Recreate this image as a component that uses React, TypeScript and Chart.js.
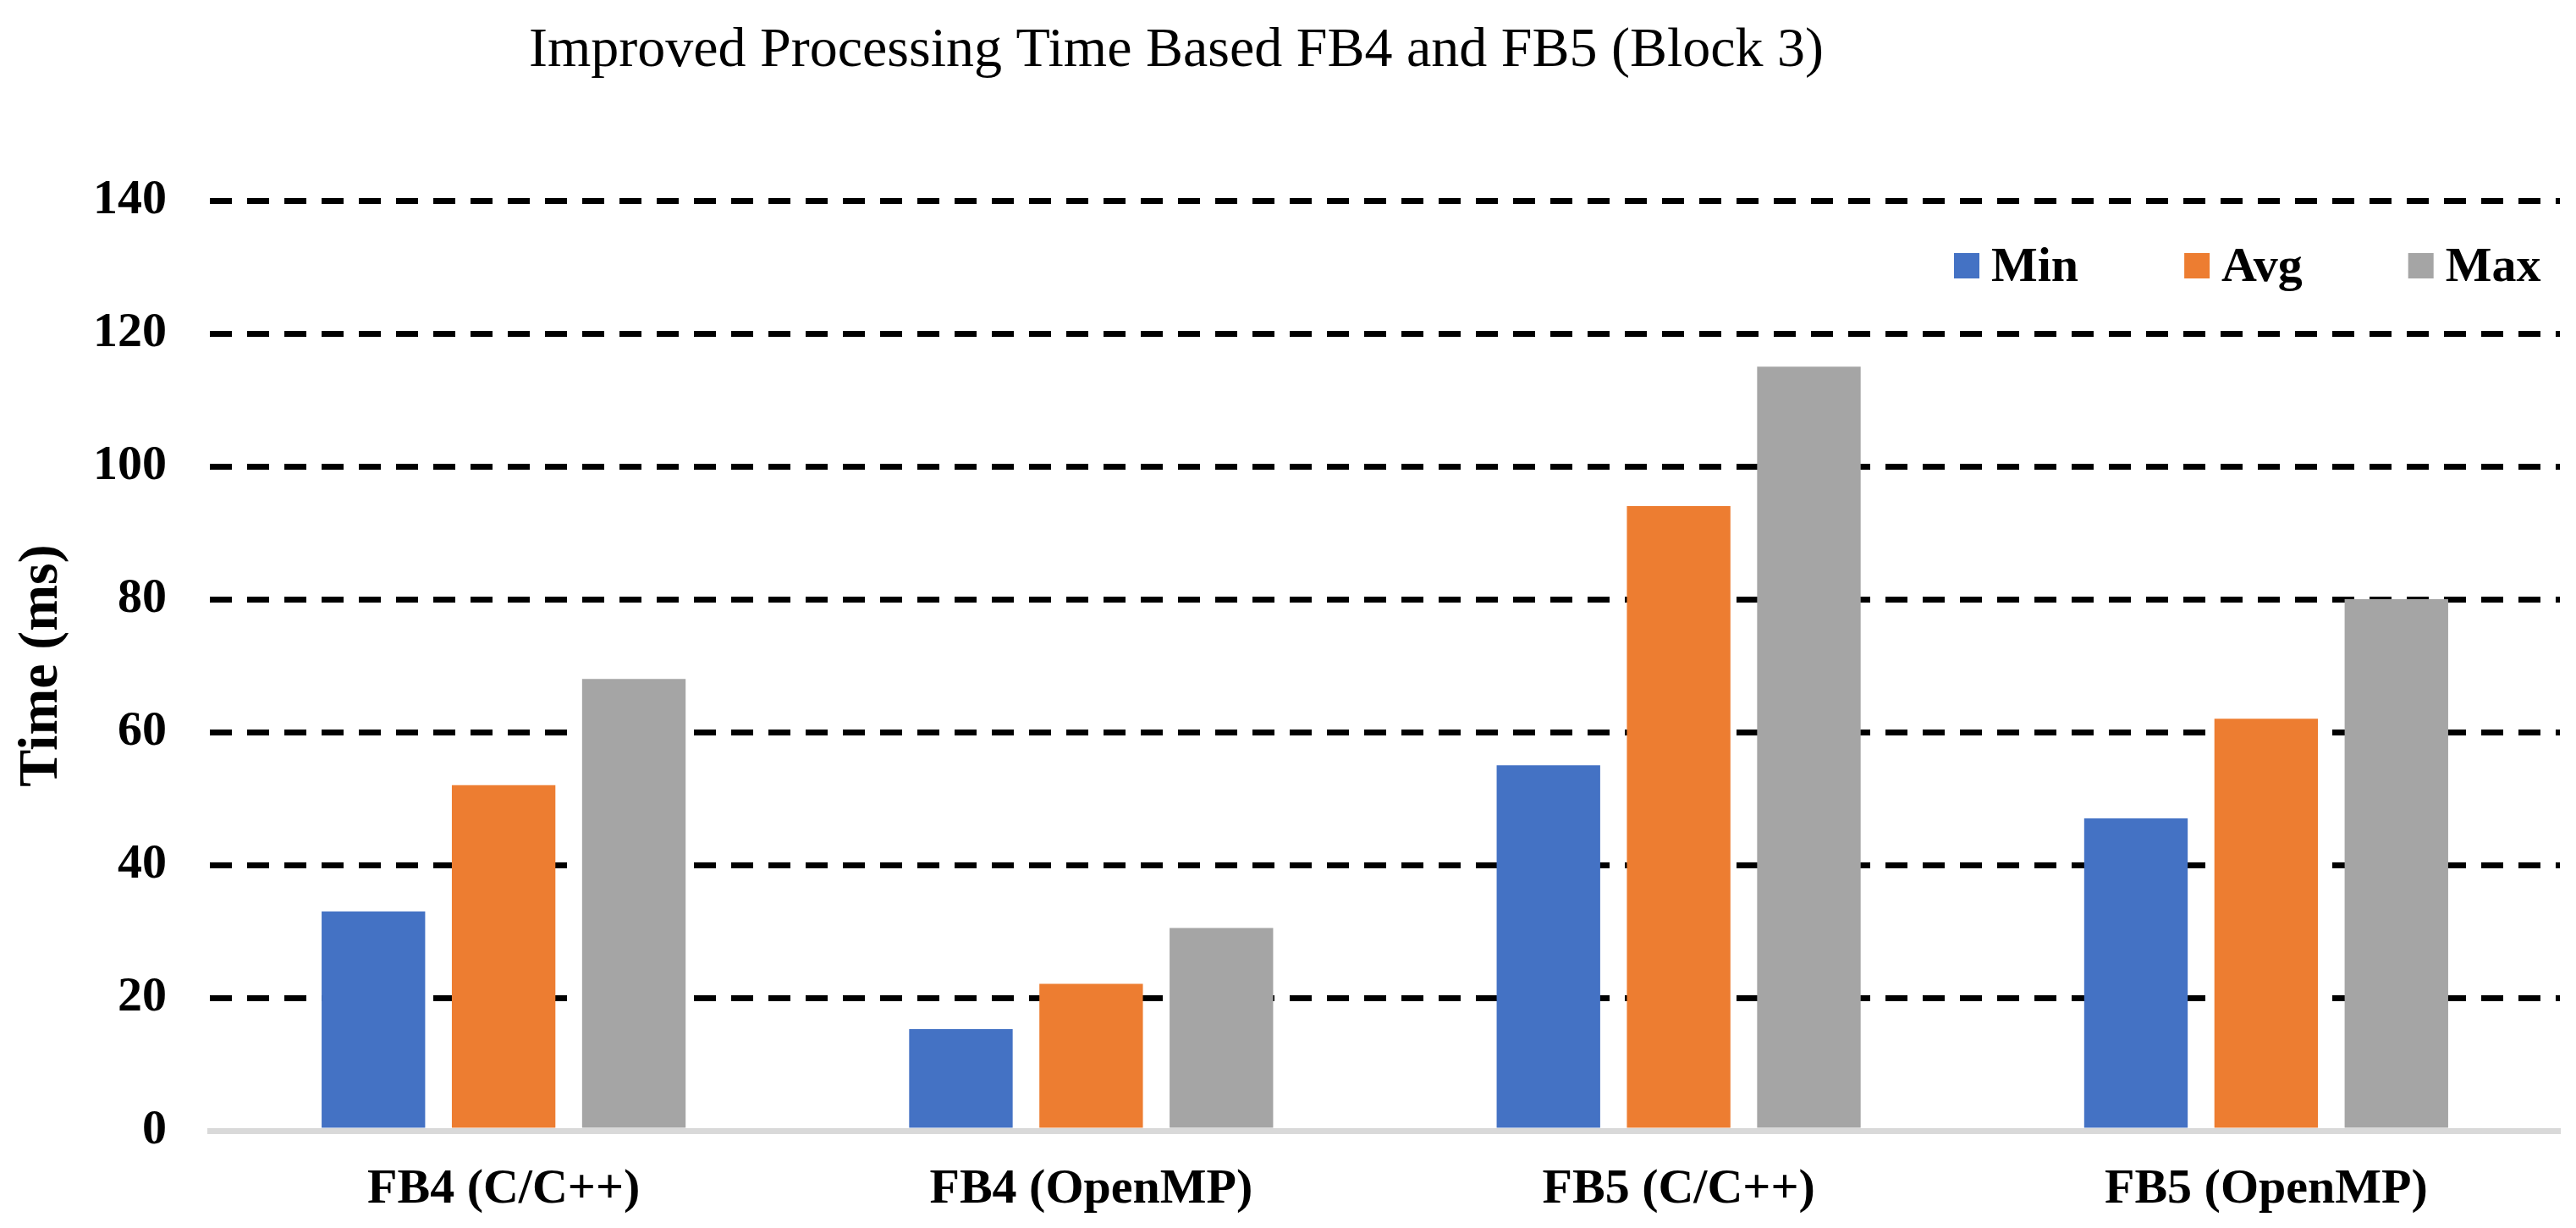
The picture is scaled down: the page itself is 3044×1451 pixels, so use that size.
import React, { useEffect, useRef } from "react";
import { Chart, registerables } from "chart.js";

Chart.register(...registerables);

// ---- Data ----
const categories = ["FB4 (C/C++)", "FB4 (OpenMP)", "FB5 (C/C++)", "FB5 (OpenMP)"];
const minValues = [33, 15.3, 55, 47];
const avgValues = [52, 22.1, 94, 62];
const maxValues = [68, 30.5, 115, 80];
const seriesLabels = ["Min", "Avg", "Max"];
const seriesColors = ["#4472C4", "#ED7D31", "#A5A5A5"];
const yTickValues = [0, 20, 40, 60, 80, 100, 120, 140];
const chartTitle = "Improved Processing Time Based FB4 and FB5 (Block 3)";
const yAxisTitle = "Time (ms)";

const FONT = "'Liberation Serif', 'Times New Roman', serif";

const titlePlugin = {
  id: "customTitle",
  afterDraw(chart: any) {
    const ctx = chart.ctx;
    ctx.save();
    ctx.font = `normal 66px ${FONT}`;
    ctx.fillStyle = "#000";
    ctx.textAlign = "center";
    ctx.textBaseline = "alphabetic";
    ctx.fillText(chartTitle, 1390, 78);
    ctx.restore();
  },
};

const legendPlugin = {
  id: "customLegend",
  afterDraw(chart: any) {
    const ctx = chart.ctx;
    ctx.save();
    ctx.font = `bold 58px ${FONT}`;
    ctx.textAlign = "left";
    ctx.textBaseline = "alphabetic";
    let x = 2309;
    const boxTop = 299;
    const box = 30;
    chart.data.datasets.forEach((ds: any) => {
      ctx.fillStyle = ds.backgroundColor;
      ctx.fillRect(x, boxTop, box, box);
      ctx.fillStyle = "#000";
      const tx = x + box + 14;
      ctx.fillText(ds.label, tx, 332);
      x = tx + ctx.measureText(ds.label).width + 125;
    });
    ctx.restore();
  },
};

export default function App() {
  const canvasRef = useRef<HTMLCanvasElement | null>(null);

  useEffect(() => {
    document.body.style.margin = "0";
    const canvas = canvasRef.current;
    if (!canvas) return;
    const seriesValues = [minValues, avgValues, maxValues];
    const chart = new Chart(canvas, {
      type: "bar",
      data: {
        labels: categories,
        datasets: seriesLabels.map((label, i) => ({
          label,
          data: seriesValues[i],
          backgroundColor: seriesColors[i],
          borderWidth: 0,
          categoryPercentage: 0.665,
          barPercentage: 0.795,
        })),
      },
      options: {
        responsive: false,
        animation: false,
        devicePixelRatio: 1,
        layout: { padding: { top: 237, right: 19, bottom: 0, left: 0 } },
        plugins: {
          legend: { display: false },
          title: { display: false },
          tooltip: { enabled: false },
        },
        scales: {
          x: {
            type: "category",
            grid: { display: true, drawOnChartArea: false, drawTicks: false },
            border: { display: true, color: "#D9D9D9", width: 7, z: 1 },
            ticks: {
              color: "#000",
              font: { family: FONT, size: 58, weight: "bold" },
              padding: 35,
              maxRotation: 0,
              autoSkip: false,
            },
            afterFit(scale: any) {
              scale.height = 115;
            },
          },
          y: {
            type: "linear",
            min: 0,
            max: 140,
            afterBuildTicks(scale: any) {
              scale.ticks = yTickValues.map((v) => ({ value: v }));
            },
            grid: {
              color: (ctx: any) => (ctx.tick && ctx.tick.value === 0 ? "rgba(0,0,0,0)" : "#000"),
              lineWidth: 7,
              drawTicks: false,
            },
            border: { display: false, dash: [26, 18] },
            ticks: {
              color: "#000",
              font: { family: FONT, size: 58, weight: "bold" },
              padding: 51,
            },
            title: {
              display: true,
              text: yAxisTitle,
              color: "#000",
              font: { family: FONT, size: 66, weight: "bold" },
              padding: { top: 10, bottom: 0 },
            },
            afterFit(scale: any) {
              scale.width = 248;
            },
          },
        },
      },
      plugins: [titlePlugin, legendPlugin],
    } as any);
    return () => {
      chart.destroy();
    };
  }, []);

  return (
    <div style={{ width: 3044, height: 1451, background: "#fff" }}>
      <canvas
        ref={canvasRef}
        width={3044}
        height={1451}
        style={{ display: "block", width: 3044, height: 1451 }}
      />
    </div>
  );
}
